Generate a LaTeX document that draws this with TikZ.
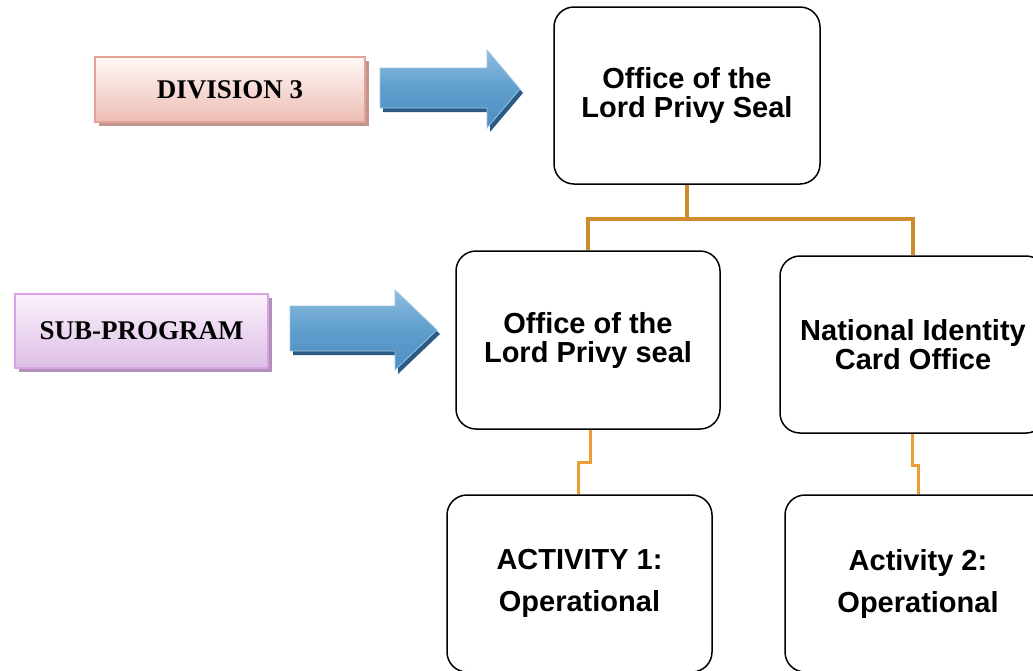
\documentclass[tikz,border=0pt]{standalone}
\usepackage{fontspec}
\setmainfont{Liberation Sans}
\newfontfamily\labelserif{Liberation Serif}
\usetikzlibrary{shadows,calc}
\definecolor{connA}{HTML}{D08B2F}
\definecolor{connB}{HTML}{EC9E36}
\definecolor{pinkedge}{HTML}{E3A395}
\definecolor{pinkbot}{HTML}{EDBDB4}
\definecolor{pinktop}{HTML}{FFF8F6}
\definecolor{pinkshadow}{HTML}{C0958F}
\definecolor{lilacedge}{HTML}{D9A3E3}
\definecolor{lilacbot}{HTML}{DDBEE6}
\definecolor{lilactop}{HTML}{FBF1FC}
\definecolor{lilacshadow}{HTML}{B28FB8}
\definecolor{arrowtop}{HTML}{8FBDDF}
\definecolor{arrowmid}{HTML}{5E9ECD}
\definecolor{arrowbot}{HTML}{4F8EC0}
\definecolor{arrowshadow}{HTML}{2B5B82}
\definecolor{arrowedge}{HTML}{9CC6E6}
\tikzset{
  unit/.style={draw=black, line width=1.5pt, rounded corners=20pt, fill=white,
    inner sep=0pt, align=center, font=\fontsize{29}{29}\selectfont\bfseries},
  tag/.style={inner sep=0pt, line width=1.5pt,
    font=\labelserif\fontsize{27}{28}\selectfont\bfseries},
  pinktag/.style={tag, draw=pinkedge, top color=pinktop, bottom color=pinkbot,
    copy shadow={shadow xshift=4pt, shadow yshift=-4pt, fill=pinkshadow, draw=none}},
  lilactag/.style={tag, draw=lilacedge, top color=lilactop, bottom color=lilacbot,
    copy shadow={shadow xshift=4pt, shadow yshift=-4pt, fill=lilacshadow, draw=none}},
  busline/.style={draw=connA, line width=3.2pt},
  stepline/.style={draw=connB, line width=3pt},
  bigarrow/.style={top color=arrowtop, bottom color=arrowbot, middle color=arrowmid,
    draw=arrowedge, line width=0.8pt},
  arrowshade/.style={fill=arrowshadow},
}
\begin{document}
\begin{tikzpicture}[x=1pt, y=-1pt]
\useasboundingbox (0,0) rectangle (1033,670);
\clip (0,0) rectangle (1033,670);

% organisation boxes
\node[unit, minimum width=266pt, minimum height=177pt] (seal) at (687,95.5)
  {Office of the\\Lord Privy Seal};
\node[unit, minimum width=264pt, minimum height=178pt] (sealsub) at (588,340)
  {Office of the\\Lord Privy seal};
\node[unit, minimum width=266pt, minimum height=177pt] (nic) at (913,344.5)
  {National Identity\\Card Office};
\node[unit, minimum width=265pt, minimum height=177pt] (act1) at (579.5,583.5)
  {ACTIVITY 1:\\[13pt]Operational};
\node[unit, minimum width=266pt, minimum height=177pt] (act2) at (918,583.5)
  {Activity 2:\\[13pt]Operational};

% connectors
\coordinate (bus) at (687,219);
\draw[busline] (seal.south) -- (bus) -| (sealsub.north);
\draw[busline] (bus) -| (nic.north);
\draw[stepline] ([xshift=2pt]sealsub.south) -- ++(0,33) -| ([xshift=-1.5pt]act1.north);
\draw[stepline] ([xshift=-1pt]nic.south) -- ++(0,32) -| (act2.north);

% level labels
\node[pinktag, minimum width=270pt, minimum height=65pt] (division) at (230,89.5)
  {DIVISION 3};
\node[lilactag, minimum width=253pt, minimum height=74pt] (subprog) at (141.5,331)
  {SUB-PROGRAM};

% block arrows
\fill[arrowshade] (383,72) -- (490,72) -- (490,54) -- (523,93) -- (490,132)
  -- (490,112) -- (383,112) -- cycle;
\path[bigarrow] (380,68) -- (487,68) -- (487,50) -- (520,89) -- (487,128)
  -- (487,108) -- (380,108) -- cycle;
\fill[arrowshade] (293,310) -- (398,310) -- (398,294) -- (440,334) -- (398,374)
  -- (398,355) -- (293,355) -- cycle;
\path[bigarrow] (290,306) -- (395,306) -- (395,290) -- (437,330) -- (395,370)
  -- (395,351) -- (290,351) -- cycle;
\end{tikzpicture}
\end{document}
